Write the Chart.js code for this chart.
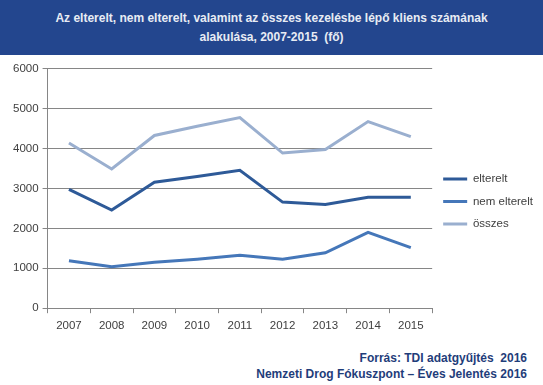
<!DOCTYPE html>
<html>
<head>
<meta charset="utf-8">
<script src="https://cdn.jsdelivr.net/npm/chart.js@4"></script>
<style>
  body{margin:0;width:543px;height:385px;background:#fff;font-family:Arial,"Liberation Sans",sans-serif;overflow:hidden;position:relative}
  #head{position:absolute;left:0;top:0;width:543px;height:55px;background:#23468e;color:#e8ecf4;font-weight:bold;font-size:12px;text-align:center;line-height:19px;padding-top:9px;box-sizing:border-box}
  #wrap{position:absolute;left:0;top:58px;width:543px;height:285px}
  #foot{position:absolute;right:16px;top:350px;color:#1f3d7a;font-weight:bold;font-size:12px;text-align:right;line-height:16px}
</style>
</head>
<body>
<div id="head">Az elterelt, nem elterelt, valamint az összes kezelésbe lépő kliens számának<br>alakulása, 2007-2015&nbsp; (fő)</div>
<div id="wrap"><canvas id="mychart"></canvas></div>
<div id="foot">Forrás: TDI adatgyűjtés&nbsp; 2016<br>Nemzeti Drog Fókuszpont – Éves Jelentés 2016</div>
<script>
var years=["2007","2008","2009","2010","2011","2012","2013","2014","2015"]
var elterelt=[2980,2460,3160,3300,3460,2660,2600,2780,2780]
var nemElterelt=[1190,1040,1150,1230,1330,1230,1390,1900,1520]
var osszes=[4140,3490,4330,4560,4780,3890,3980,4680,4300]

var ctx=document.getElementById("mychart").getContext('2d')
var chart=new Chart(ctx,{
  type:'line',
  data:{
    labels:years,
    datasets:[
      {label:"elterelt",data:elterelt,borderColor:"#2e5a98",backgroundColor:"#2e5a98",borderWidth:3,pointRadius:0,tension:0},
      {label:"nem elterelt",data:nemElterelt,borderColor:"#4577b9",backgroundColor:"#4577b9",borderWidth:3,pointRadius:0,tension:0},
      {label:"összes",data:osszes,borderColor:"#9aafcf",backgroundColor:"#9aafcf",borderWidth:3,pointRadius:0,tension:0}
    ]
  },
  options:{
    responsive:true,
    maintainAspectRatio:false,
    animation:false,
    layout:{padding:{top:6,left:9,right:0,bottom:4}},
    plugins:{
      legend:{
        position:'right',
        labels:{usePointStyle:true,pointStyle:'line',pointStyleWidth:24,boxWidth:28,padding:11,color:'#404040',font:{family:'Arial',size:11.5}}
      },
      tooltip:{enabled:false}
    },
    scales:{
      x:{
        offset:true,
        grid:{display:true,drawOnChartArea:false,offset:true,color:'#868686',tickLength:5},
        border:{color:'#868686'},
        ticks:{color:'#404040',font:{family:'Arial',size:11.5},padding:6}
      },
      y:{
        min:0,max:6000,
        grid:{color:'#868686',tickLength:5},
        border:{color:'#868686'},
        ticks:{stepSize:1000,color:'#404040',font:{family:'Arial',size:11.5},padding:4,callback:function(v){return String(v)}}
      }
    }
  }
})
</script>
</body>
</html>
